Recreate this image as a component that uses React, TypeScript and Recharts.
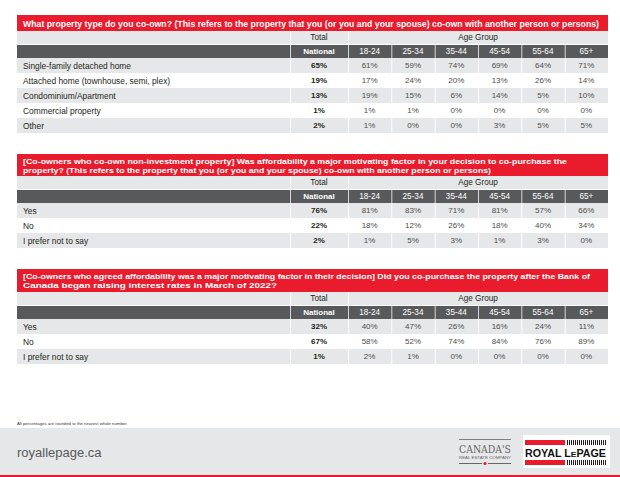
import React from 'react';
import { BarChart, Bar, XAxis, YAxis } from 'recharts';

const ageGroups = ['18-24', '25-34', '35-44', '45-54', '55-64', '65+'];

const q1Title = [
  'What property type do you co-own? (This refers to the property that you (or you and your spouse) co-own with another person or persons)',
];
const q1Labels = [
  'Single-family detached home',
  'Attached home (townhouse, semi, plex)',
  'Condominium/Apartment',
  'Commercial property',
  'Other',
];
const q1National = [65, 19, 13, 1, 2];
const q1ByAge = [
  [61, 59, 74, 69, 64, 71],
  [17, 24, 20, 13, 26, 14],
  [19, 15, 6, 14, 5, 10],
  [1, 1, 0, 0, 0, 0],
  [1, 0, 0, 3, 5, 5],
];

const q2Title = [
  '[Co-owners who co-own non-investment property] Was affordability a major motivating factor in your decision to co-purchase the',
  'property? (This refers to the property that you (or you and your spouse) co-own with another person or persons)',
];
const q2Labels = ['Yes', 'No', 'I prefer not to say'];
const q2National = [76, 22, 2];
const q2ByAge = [
  [81, 83, 71, 81, 57, 66],
  [18, 12, 26, 18, 40, 34],
  [1, 5, 3, 1, 3, 0],
];

const q3Title = [
  '[Co-owners who agreed affordability was a major motivating factor in their decision] Did you co-purchase the property after the Bank of',
  'Canada began raising interest rates in March of 2022?',
];
const q3Labels = ['Yes', 'No', 'I prefer not to say'];
const q3National = [32, 67, 1];
const q3ByAge = [
  [40, 47, 26, 16, 24, 11],
  [58, 52, 74, 84, 76, 89],
  [2, 1, 0, 0, 0, 0],
];

// layout: rendered width of each title line (px)
const q1TitleW = [576];
const q2TitleW = [544, 468];
const q3TitleW = [567, 254];

const RED = '#e91c2d';
const DARK = '#58595b';
const LIGHT = '#e6e7e8';
const FONT = '"Liberation Sans", Arial, Helvetica, sans-serif';

const TABLE_LEFT = 17;
const TABLE_W = 591;
const ROW_H = 15;
// column boundaries relative to table left
const COLS = [0, 273, 331, 374.3, 417.7, 461, 504.3, 547.7, 591];

function buildRows(labels: string[], national: number[], byAge: number[][]) {
  return labels.map((label, i) => ({ label, national: national[i], ages: byAge[i], row: i }));
}

const RowShape = (props: any) => {
  const { y, height, payload } = props;
  const gray = payload.row % 2 === 0;
  const cy = y + height / 2;
  const values = [payload.national, ...payload.ages];
  return (
    <g>
      {COLS.slice(0, -1).map((c, i) => (
        <rect
          key={'r' + i}
          x={c + (i > 0 ? 1 : 0)}
          y={y}
          width={COLS[i + 1] - c - (i > 0 ? 1 : 0)}
          height={height}
          fill={gray ? LIGHT : '#ffffff'}
        />
      ))}
      <text x={6} y={cy} dominantBaseline="central" fontSize={8.4} fill="#231f20" fontFamily={FONT}>
        {payload.label}
      </text>
      {values.map((v: number, i: number) => (
        <text
          key={'t' + i}
          x={(COLS[i + 1] + COLS[i + 2]) / 2}
          y={cy}
          textAnchor="middle"
          dominantBaseline="central"
          fontSize={8}
          fontWeight={i === 0 ? 'bold' : 'normal'}
          fill={i === 0 ? '#231f20' : '#4d4d4f'}
          fontFamily={FONT}
        >
          {v + '%'}
        </text>
      ))}
    </g>
  );
};

function TableBlock({ top, titleH, title, titleW, labels, national, byAge }: any) {
  const data = buildRows(labels, national, byAge);
  const lightTop = top + titleH;
  const darkTop = lightTop + 14;
  const rowsTop = darkTop + 13;
  const abs = (x: number) => TABLE_LEFT + x;
  const single = title.length === 1;
  const firstBase = single ? top + 11.5 : top + 10.3;
  const fs = single ? 8.6 : 7.8;
  return (
    <>
      <svg
        style={{ position: 'absolute', left: 0, top: 0 }}
        width={620}
        height={477}
        pointerEvents="none"
      >
        <rect x={abs(0)} y={top} width={TABLE_W} height={titleH} fill={RED} />
        {title.map((t: string, i: number) => (
          <text
            key={i}
            x={abs(6)}
            y={firstBase + i * 8.6}
            fontSize={fs}
            fontWeight="bold"
            fill="#fff"
            fontFamily={FONT}
            textLength={titleW[i]}
            lengthAdjust="spacingAndGlyphs"
          >
            {t}
          </text>
        ))}
        <rect x={abs(0)} y={lightTop} width={TABLE_W} height={13} fill={LIGHT} />
        <rect x={abs(COLS[1])} y={lightTop} width={1} height={13} fill="#fff" />
        <rect x={abs(COLS[2])} y={lightTop} width={1} height={13} fill="#fff" />
        <text x={abs((COLS[1] + COLS[2]) / 2)} y={lightTop + 6.8} textAnchor="middle" dominantBaseline="central" fontSize={8.2} fill="#231f20" fontFamily={FONT}>Total</text>
        <text x={abs((COLS[2] + COLS[8]) / 2)} y={lightTop + 6.8} textAnchor="middle" dominantBaseline="central" fontSize={8.2} fill="#231f20" fontFamily={FONT}>Age Group</text>
        <rect x={abs(0)} y={darkTop} width={TABLE_W} height={13} fill={DARK} />
        {COLS.slice(1, -1).map((c, i) => (
          <rect key={i} x={abs(c)} y={darkTop} width={1} height={13} fill="#d6d6d6" />
        ))}
        <text x={abs((COLS[1] + COLS[2]) / 2)} y={darkTop + 6.8} textAnchor="middle" dominantBaseline="central" fontSize={8} fontWeight="bold" fill="#fff" fontFamily={FONT}>National</text>
        {ageGroups.map((g, i) => (
          <text key={g} x={abs((COLS[i + 2] + COLS[i + 3]) / 2)} y={darkTop + 6.8} textAnchor="middle" dominantBaseline="central" fontSize={8.2} fill="#fff" fontFamily={FONT}>{g}</text>
        ))}
      </svg>
      <div style={{ position: 'absolute', left: TABLE_LEFT, top: rowsTop }}>
        <BarChart
          width={TABLE_W}
          height={data.length * ROW_H}
          data={data}
          layout="vertical"
          margin={{ top: 0, right: 0, bottom: 0, left: 0 }}
          barCategoryGap={0}
          barGap={0}
        >
          <XAxis type="number" hide domain={[0, 100]} />
          <YAxis type="category" dataKey="label" hide />
          <Bar dataKey="national" isAnimationActive={false} shape={RowShape} />
        </BarChart>
      </div>
    </>
  );
}

const barcode = Array.from({ length: 20 }, (_, i) => i);

function Footer() {
  return (
    <svg style={{ position: 'absolute', left: 0, top: 0 }} width={620} height={477}>
      <text x={17} y={425} fontSize={4.3} fill="#333" fontFamily={FONT}>
        All percentages are rounded to the nearest whole number.
      </text>
      <rect x={0} y={428} width={620} height={47} fill={LIGHT} />
      <rect x={0} y={475} width={620} height={2} fill={RED} />
      <text x={17} y={457} fontSize={13} fill="#58595b" fontFamily={FONT}>royallepage.ca</text>
      {/* Canada's real estate company */}
      <line x1={459} x2={511} y1={439.5} y2={439.5} stroke="#666" strokeWidth={0.8} />
      <text x={459} y={453} fontSize={11} textLength={52} lengthAdjust="spacingAndGlyphs" fill="#666" fontFamily='"DejaVu Serif", serif' fontWeight="normal">CANADA'S</text>
      <text x={459} y={458.5} fontSize={3.4} textLength={52} lengthAdjust="spacingAndGlyphs" fill="#666" fontFamily={FONT}>REAL ESTATE COMPANY</text>
      <line x1={459} x2={482} y1={463.5} y2={463.5} stroke="#444" strokeWidth={0.8} />
      <line x1={488} x2={511} y1={463.5} y2={463.5} stroke="#444" strokeWidth={0.8} />
      <circle cx={485} cy={463.5} r={1.6} fill={RED} />
      {/* Royal LePage logo */}
      <rect x={523} y={435} width={87} height={33} fill="#fff" />
      <rect x={525} y={440} width={40} height={5} fill={RED} />
      <rect x={525} y={460} width={40} height={5} fill={RED} />
      {barcode.map((i) => (
        <g key={i}>
          <rect x={567 + i * 2} y={440} width={1} height={5} fill="#231f20" />
          <rect x={567 + i * 2} y={460} width={1} height={5} fill="#231f20" />
        </g>
      ))}
      <text x={525} y={456.5} fontSize={10} fontWeight="bold" textLength={81} lengthAdjust="spacingAndGlyphs" fill="#111" fontFamily={FONT}>
        ROYAL L<tspan fontSize={8}>E</tspan>PAGE
      </text>
    </svg>
  );
}

export default function App() {
  return (
    <div
      style={{
        position: 'absolute',
        left: 0,
        top: 0,
        width: 620,
        height: 477,
        background: '#fff',
        fontFamily: FONT,
        overflow: 'hidden',
      }}
    >
      <TableBlock top={15} titleH={16} title={q1Title} titleW={q1TitleW} labels={q1Labels} national={q1National} byAge={q1ByAge} />
      <TableBlock top={154} titleH={22} title={q2Title} titleW={q2TitleW} labels={q2Labels} national={q2National} byAge={q2ByAge} />
      <TableBlock top={269} titleH={23} title={q3Title} titleW={q3TitleW} labels={q3Labels} national={q3National} byAge={q3ByAge} />
      <Footer />
    </div>
  );
}
